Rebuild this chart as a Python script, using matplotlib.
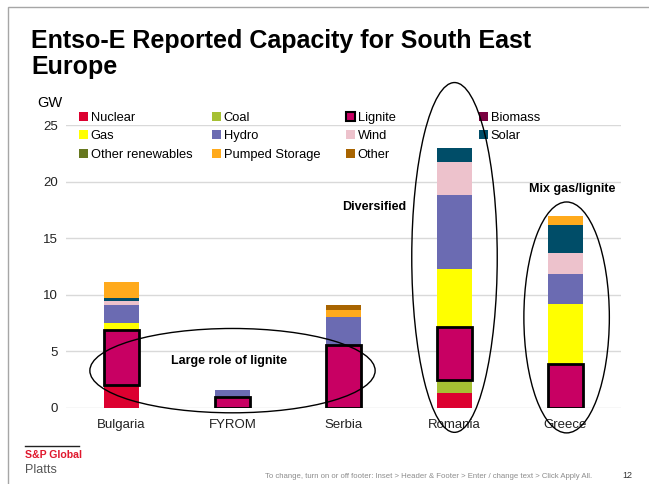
import numpy as np
import matplotlib
matplotlib.use("Agg")
import matplotlib.pyplot as plt
from matplotlib.patches import Ellipse, Rectangle, Patch
from matplotlib.legend import Legend

plt.rcParams['font.family'] = ['Liberation Sans', 'DejaVu Sans']

countries = ['Bulgaria', 'FYROM', 'Serbia', 'Romania', 'Greece']

# GW per fuel (Bulgaria, FYROM, Serbia, Romania, Greece)
nuclear = [2.0, 0.0, 0.0, 1.3, 0.0]
coal = [0.0, 0.0, 0.0, 1.15, 0.0]
lignite = [4.85, 1.0, 5.6, 4.7, 3.9]
biomass = [0.0, 0.0, 0.0, 0.0, 0.0]
gas = [0.7, 0.0, 0.0, 5.15, 5.25]
hydro = [1.55, 0.55, 2.4, 6.5, 2.7]
wind = [0.35, 0.0, 0.0, 2.95, 1.85]
solar = [0.25, 0.0, 0.0, 1.25, 2.5]
other_renewables = [0.0, 0.0, 0.0, 0.0, 0.0]
pumped_storage = [1.4, 0.0, 0.7, 0.0, 0.75]
other = [0.0, 0.0, 0.4, 0.0, 0.0]

series = [
    ('Nuclear', nuclear, '#DC0030'),
    ('Coal', coal, '#A6C033'),
    ('Lignite', lignite, '#C80063'),
    ('Biomass', biomass, '#7A0040'),
    ('Gas', gas, '#FFFF00'),
    ('Hydro', hydro, '#6B6BB2'),
    ('Wind', wind, '#EDC2CC'),
    ('Solar', solar, '#004D68'),
    ('Other renewables', other_renewables, '#66771E'),
    ('Pumped Storage', pumped_storage, '#FFAA1C'),
    ('Other', other, '#A86400'),
]

fig = plt.figure(figsize=(6.49, 4.84), dpi=100)
ax = fig.add_axes([66 / 649, 1 - 408 / 484, 555 / 649, 283 / 484])

x = np.arange(len(countries))
bottom = np.zeros(len(countries))
handles = {}
for name, vals, col in series:
    vals = np.array(vals)
    if name == 'Lignite':
        ax.bar(x, vals, 0.32, bottom=bottom, color=col, edgecolor='black',
               linewidth=2, zorder=4)
        handles[name] = Patch(facecolor=col, edgecolor='black', linewidth=1.5)
    else:
        ax.bar(x, vals, 0.32, bottom=bottom, color=col, linewidth=0, zorder=3)
        handles[name] = Patch(facecolor=col, edgecolor='none')
    bottom += vals

ax.set_xlim(-0.5, 4.5)
ax.set_ylim(0, 25)
ax.set_yticks([0, 5, 10, 15, 20, 25])
ax.set_xticks(x)
ax.set_xticklabels(countries)
ax.tick_params(length=0, labelsize=9.5, colors='#222222')
ax.tick_params(axis='y', pad=6)
ax.tick_params(axis='x', pad=8)
ax.grid(axis='y', color='#D9D9D9', linewidth=1)
ax.set_axisbelow(True)
for s in ax.spines.values():
    s.set_visible(False)

# legend: four columns, each its own legend so the columns sit evenly
columns = [['Nuclear', 'Gas', 'Other renewables'],
           ['Coal', 'Hydro', 'Pumped Storage'],
           ['Lignite', 'Wind', 'Other'],
           ['Biomass', 'Solar']]
col_x = [79, 212, 346, 479]
for names, px in zip(columns, col_x):
    leg = Legend(ax, [handles[n] for n in names], names, frameon=False,
                 loc='upper left', bbox_to_anchor=((px - 66) / 555, 1.047),
                 fontsize=9.3, handlelength=0.7, handleheight=0.7,
                 handletextpad=0.2, labelspacing=0.5, borderaxespad=0,
                 borderpad=0)
    ax.add_artist(leg)

# annotations
ell_kw = dict(fill=False, edgecolor='black', linewidth=1, clip_on=False, zorder=6)
ax.add_patch(Ellipse((1.0, 3.3), 2.57, 7.45, **ell_kw))
ax.add_patch(Ellipse((3.0, 13.3), 0.77, 30.9, **ell_kw))
ax.add_patch(Ellipse((4.01, 8.0), 0.77, 20.4, **ell_kw))
ax.text(0.97, 4.15, 'Large role of lignite', ha='center', va='center',
        fontsize=9, fontweight='bold', zorder=7)
ax.text(2.28, 17.75, 'Diversified', ha='center', va='center',
        fontsize=9, fontweight='bold', zorder=7)
ax.text(4.06, 19.35, 'Mix gas/lignite', ha='center', va='center',
        fontsize=9, fontweight='bold', zorder=7)

# slide decorations
fig.text(31 / 649, 1 - 29 / 484, 'Entso-E Reported Capacity for South East\nEurope',
         fontsize=18, fontweight='bold', va='top', ha='left', linespacing=1.08)
fig.text(37 / 649, 1 - 103 / 484, 'GW', fontsize=10.5, va='center', ha='left')
fig.patches.append(Rectangle((8 / 649, -0.1), 1.2, 1 - 7 / 484 + 0.1,
                             transform=fig.transFigure, fill=False,
                             edgecolor='#A6A6A6', linewidth=1))
fig.add_artist(plt.Line2D([25 / 649, 79 / 649], [1 - 446 / 484] * 2,
                          transform=fig.transFigure, color='#222222', linewidth=1))
fig.text(25 / 649, 1 - 455 / 484, 'S&P Global', color='#E0182D', fontsize=7.6,
         fontweight='bold', va='center', ha='left')
fig.text(25 / 649, 1 - 470 / 484, 'Platts', color='#555555', fontsize=9,
         va='center', ha='left')
fig.text(592 / 649, 1 - 476 / 484,
         'To change, turn on or off footer: Inset > Header & Footer > Enter / change text > Click Apply All.',
         color='#8C8C8C', fontsize=5.6, va='center', ha='right')
fig.text(632 / 649, 1 - 476 / 484, '12', color='#333333', fontsize=6.5,
         va='center', ha='right')

fig.savefig('out.png', dpi=100)
